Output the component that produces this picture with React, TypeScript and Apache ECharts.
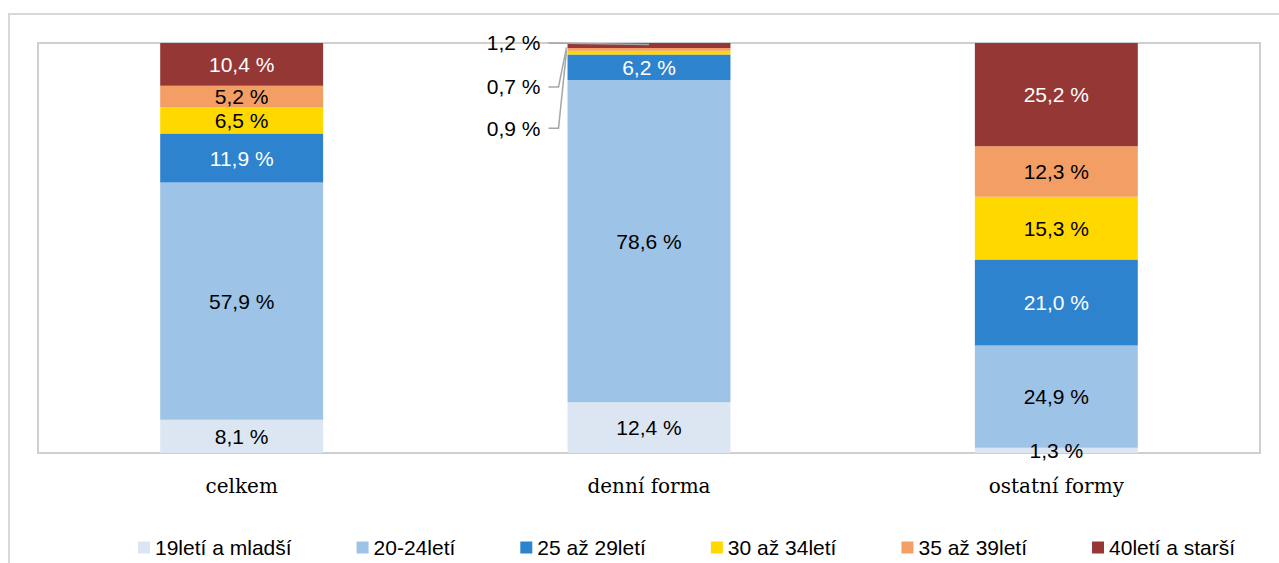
import React, { useEffect, useRef } from "react";
import * as echarts from "echarts";

const categories = ["celkem", "denní forma", "ostatní formy"];
const seriesNames = ["19letí a mladší", "20-24letí", "25 až 29letí", "30 až 34letí", "35 až 39letí", "40letí a starší"];
const age19 = [8.1, 12.4, 1.3];
const age20to24 = [57.9, 78.6, 24.9];
const age25to29 = [11.9, 6.2, 21.0];
const age30to34 = [6.5, 0.9, 15.3];
const age35to39 = [5.2, 0.7, 12.3];
const age40plus = [10.4, 1.2, 25.2];
const seriesValues = [age19, age20to24, age25to29, age30to34, age35to39, age40plus];
const colors = ["#DCE6F2", "#9DC3E6", "#2E83CF", "#FFD800", "#F39E65", "#953735"];
const labelColors = ["#000", "#000", "#fff", "#000", "#000", "#fff"];
// outside labels (denní forma, small segments): vertical offset from segment centre
const outsideOffsets: Record<number, number> = { 3: 75.5, 4: 37.6, 5: -2.5 };
const outsideCategory = 1;
const BAR_FRACTION = 0.4;

const fmt = (v: number) => v.toFixed(1).replace(".", ",") + " %";

export default function App() {
  const ref = useRef<HTMLDivElement>(null);
  useEffect(() => {
    if (!ref.current) return;
    const chart = echarts.init(ref.current, undefined, { renderer: "svg" });
    const series = seriesValues.map((vals, si) => ({
      name: seriesNames[si],
      type: "bar",
      stack: "total",
      barCategoryGap: (1 - BAR_FRACTION) * 100 + "%",
      itemStyle: { color: colors[si] },
      label: {
        show: true,
        position: "inside",
        color: labelColors[si],
        fontFamily: "Liberation Sans, Arial, sans-serif",
        fontSize: 21,
        formatter: (p: any) => fmt(p.value),
      },
      labelLayout: (p: any) => {
        if (p.dataIndex === outsideCategory && outsideOffsets[si] !== undefined) {
          const r = p.rect;
          const cy = r.y + r.height / 2;
          return {
            x: r.x - 27,
            y: cy + outsideOffsets[si],
            align: "right",
            verticalAlign: "middle",
          };
        }
        return {};
      },
      data: vals.map((v, ci) => {
        if (ci === outsideCategory && outsideOffsets[si] !== undefined) {
          return { value: v, label: { color: "#000" } };
        }
        return v;
      }),
    }));
    const baseOption: any = {
      animation: false,
      grid: {
        left: 38,
        right: 19,
        top: 43,
        bottom: 110,
        show: true,
        borderColor: "#CFCFCF",
        borderWidth: 2,
        backgroundColor: "transparent",
      },
      xAxis: {
        type: "category",
        data: categories,
        axisLine: { show: false },
        axisTick: { show: false },
        axisLabel: {
          margin: 23,
          color: "#000",
          fontFamily: "DejaVu Serif, serif",
          fontSize: 20,
        },
      },
      yAxis: {
        type: "value",
        min: 0,
        max: 100,
        show: false,
        splitLine: { show: false },
      },
      legend: {
        left: 133,
        top: 532,
        itemWidth: 12,
        itemHeight: 12,
        itemGap: 65,
        icon: "rect",
        textStyle: { color: "#000", fontFamily: "Liberation Sans, Arial, sans-serif", fontSize: 21 },
        data: seriesNames,
      },
      series,
    };
    chart.setOption(baseOption);

    // leader lines for the outside labels, positioned through the chart's own scales
    const c0 = chart.convertToPixel({ gridIndex: 0 }, [0, 0]) as number[];
    const c1 = chart.convertToPixel({ gridIndex: 0 }, [1, 0]) as number[];
    const barW = (c1[0] - c0[0]) * BAR_FRACTION;
    const lines: any[] = [];
    let cum = 0;
    for (let si = 0; si < seriesValues.length; si++) {
      const v = seriesValues[si][outsideCategory];
      const lo = cum;
      cum += v;
      if (outsideOffsets[si] === undefined) continue;
      const pLo = chart.convertToPixel({ gridIndex: 0 }, [outsideCategory, lo]) as number[];
      const pHi = chart.convertToPixel({ gridIndex: 0 }, [outsideCategory, cum]) as number[];
      const barLeft = pLo[0] - barW / 2;
      const cy = (pLo[1] + pHi[1]) / 2;
      const ly = cy + outsideOffsets[si];
      const startX = barLeft - 19;
      const pts =
        si === 5
          ? [[startX, ly], [pLo[0], pHi[1] + 1.5]]
          : [[startX, ly], [barLeft - 9, ly], [barLeft - 1, cy - 2]];
      lines.push({
        type: "polyline",
        shape: { points: pts },
        style: { stroke: "#A6A6A6", lineWidth: 1.5, fill: "none" },
        silent: true,
        z: 100,
      });
    }
    chart.setOption({
      graphic: [
        {
          type: "rect",
          shape: { x: 9, y: 14, width: 1400, height: 700 },
          style: { fill: "none", stroke: "#D9D9D9", lineWidth: 2 },
          silent: true,
        },
        ...lines,
      ],
    });
    return () => chart.dispose();
  }, []);
  return <div ref={ref} style={{ position: "absolute", left: 0, top: 0, width: 1279, height: 563 }} />;
}
